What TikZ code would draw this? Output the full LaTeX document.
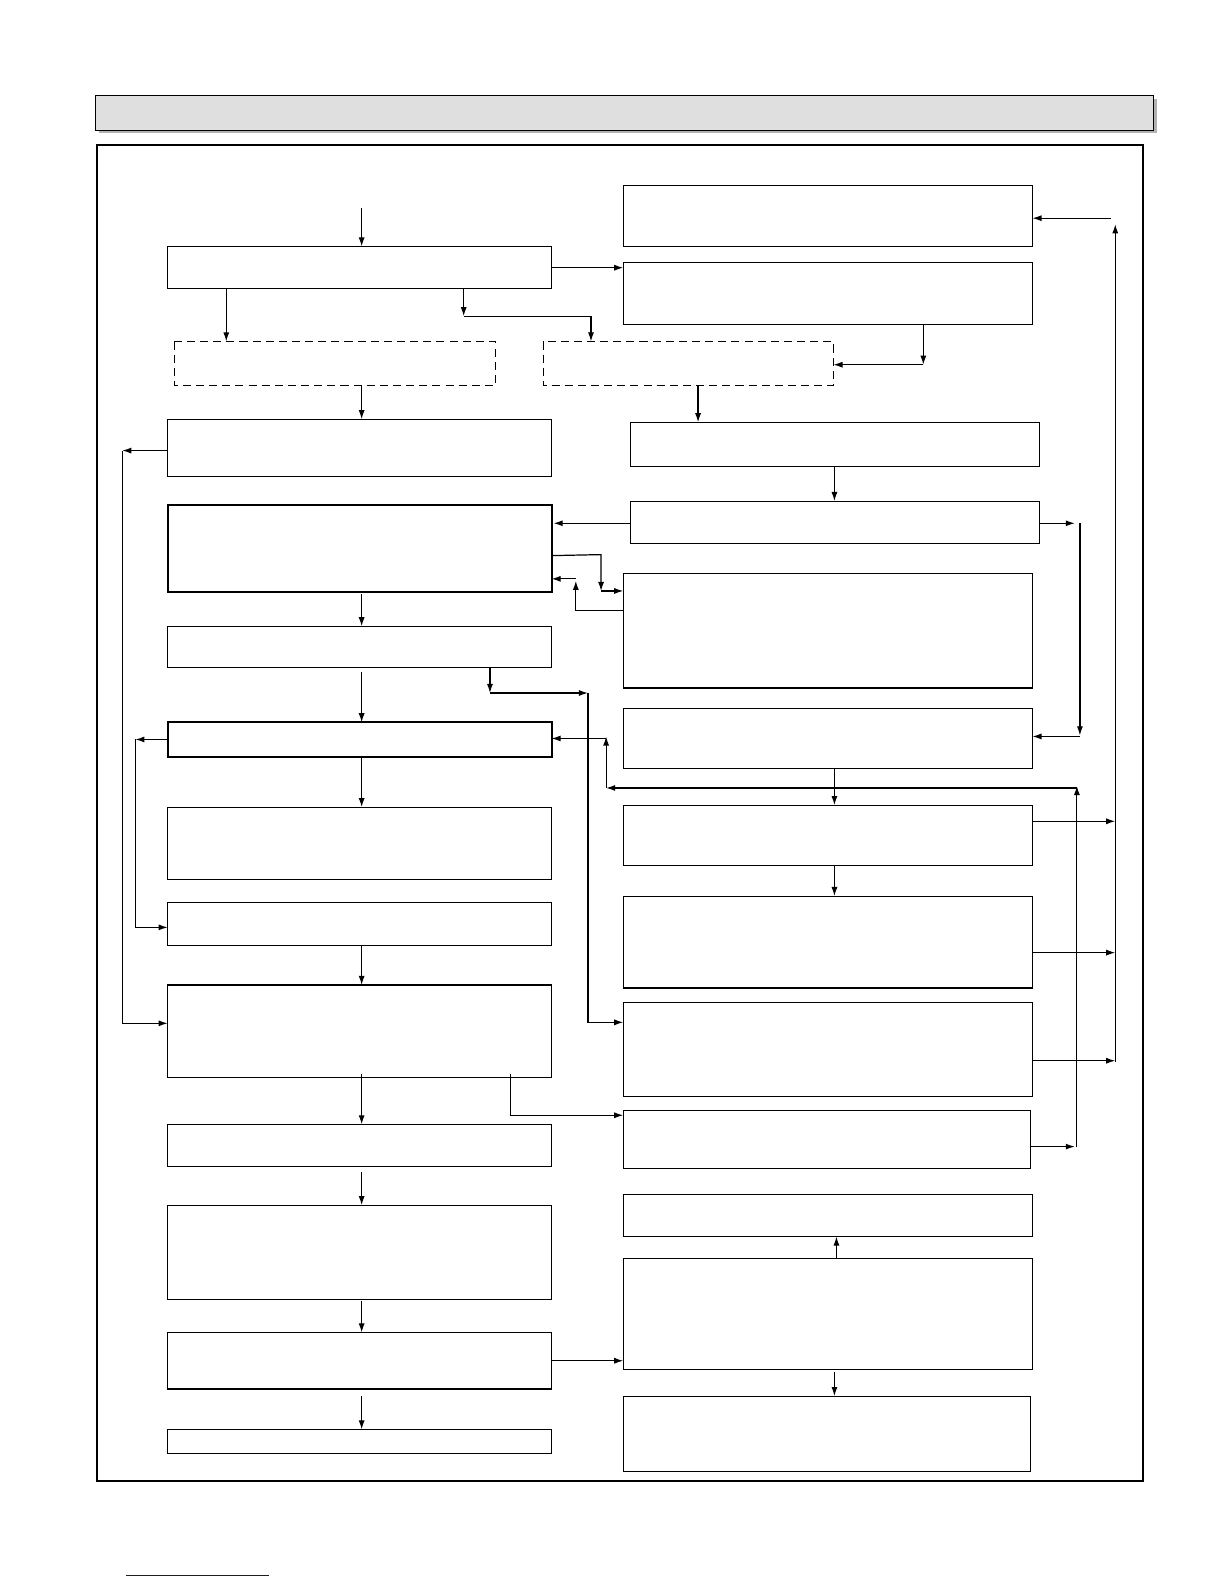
\documentclass[tikz,border=0pt]{standalone}
\usetikzlibrary{arrows.meta}
\begin{document}
\begin{tikzpicture}[x=1pt,y=-1pt,
 bx/.style={draw,line width=1.1pt},
 dbx/.style={draw,line width=1pt,dash pattern=on 8pt off 5pt},
 ar/.style={line width=1.2pt,-{Latex[length=9pt,width=6pt]}},
 ln/.style={line width=1.2pt}]
\useasboundingbox (0,0) rectangle (1212,1568);
\fill[gray!60] (98,98) rectangle (1145,132);
\draw[fill=gray!25,line width=1pt] (95,95) rectangle (1142,129);
\draw[line width=2pt] (96,144) rectangle (1131,1466);
\draw[blue,line width=0.8pt] (125,1559) -- (266,1559);
% left column
\path[bx] (166,244) rectangle (546,286) coordinate (L1);
\path[dbx] (173,338) rectangle (490,382) coordinate (D1);
\path[dbx] (538,338) rectangle (825,382) coordinate (D2);
\path[bx] (166,415) rectangle (546,472) coordinate (L2);
\path[bx,line width=2pt] (166,500) rectangle (546,586) coordinate (L3);
\path[bx] (166,620) rectangle (546,661) coordinate (L4);
\path[bx,line width=2pt] (166,715) rectangle (546,749) coordinate (L5);
\path[bx] (166,799) rectangle (546,871) coordinate (L6);
\path[bx] (166,893) rectangle (546,936) coordinate (L7);
\path[bx] (166,975) rectangle (546,1067) coordinate (L8);
\path[bx] (166,1113) rectangle (546,1155) coordinate (L9);
\path[bx] (166,1193) rectangle (546,1286) coordinate (L10);
\path[bx] (166,1319) rectangle (546,1375) coordinate (L11);
\path[bx] (166,1415) rectangle (546,1439) coordinate (L12);
% right column
\path[bx] (617,184) rectangle (1022,244) coordinate (R1);
\path[bx] (617,260) rectangle (1022,321) coordinate (R2);
\path[bx] (624,418) rectangle (1029,462) coordinate (R3);
\path[bx] (624,496) rectangle (1029,538) coordinate (R4);
\path[bx] (617,568) rectangle (1022,681) coordinate (R5);
\path[bx] (617,701) rectangle (1022,761) coordinate (R6);
\path[bx] (617,797) rectangle (1022,857) coordinate (R7);
\path[bx] (617,887) rectangle (1022,978) coordinate (R8);
\path[bx] (617,992) rectangle (1022,1085) coordinate (R9);
\path[bx] (617,1099) rectangle (1020,1157) coordinate (R10);
\path[bx] (617,1182) rectangle (1022,1224) coordinate (R11);
\path[bx] (617,1246) rectangle (1022,1356) coordinate (R12);
\path[bx] (617,1382) rectangle (1020,1457) coordinate (R13);
% connectors
\draw[ar] (358,206) -- (358,244);
\draw[ar] (546,265) -- (617,265);
\draw[ar] (224,286) -- (224,338);
\draw[ar] (459,286) -- (459,313);
\draw[ar] (459,313) -- (585,313) -- (585,338);
\draw[ar] (914,321) -- (914,361);
\draw[ar] (914,361) -- (825,361);
\draw[ar] (1104,1051) -- (1104,222);
\draw[ar] (1100,216) -- (1022,216);
\draw[ar] (1022,813) -- (1104,813);
\draw[ar] (1022,943) -- (1104,943);
\draw[ar] (1022,1050) -- (1104,1050);
\draw[ar] (358,382) -- (358,415);
\draw[ar] (691,382) -- (691,418);
\draw[ar] (166,446) -- (121,446);
\draw[ar] (121,446) -- (121,1013) -- (166,1013);
\draw[ar] (826,462) -- (826,496);
\draw[ar] (624,518) -- (548,518);
\draw[ar] (1029,518) -- (1064,518);
\draw[ar] (1069,518) -- (1069,728);
\draw[ar] (1069,729) -- (1022,729);
\draw[ar] (546,550) -- (595,549) -- (595,585);
\draw[ar] (595,585) -- (617,585);
\draw[ar] (617,604) -- (570,604) -- (570,575);
\draw[ar] (570,573) -- (546,573);
\draw[ar] (358,588) -- (358,620);
\draw[ar] (358,665) -- (358,715);
\draw[ar] (485,661) -- (485,686);
\draw[ar] (485,686) -- (582,686);
\draw[ar] (582,686) -- (582,1012) -- (617,1012);
\draw[ar] (826,761) -- (826,797);
\draw[ar] (1066,780) -- (600,780);
\draw[ar] (600,780) -- (600,729);
\draw[ar] (600,731) -- (546,731);
\draw[ar] (1066,1135) -- (1066,778);
\draw[ar] (1020,1135) -- (1064,1135);
\draw[ar] (166,732) -- (134,732);
\draw[ar] (134,732) -- (134,918) -- (166,918);
\draw[ar] (358,749) -- (358,799);
\draw[ar] (826,857) -- (826,887);
\draw[ar] (358,936) -- (358,975);
\draw[ar] (358,1063) -- (358,1113);
\draw[ar] (505,1063) -- (505,1104) -- (617,1104);
\draw[ar] (358,1160) -- (358,1193);
\draw[ar] (358,1288) -- (358,1319);
\draw[ar] (546,1347) -- (617,1347);
\draw[ar] (358,1382) -- (358,1415);
\draw[ar] (828,1246) -- (828,1224);
\draw[ar] (826,1358) -- (826,1382);
\end{tikzpicture}
\end{document}
